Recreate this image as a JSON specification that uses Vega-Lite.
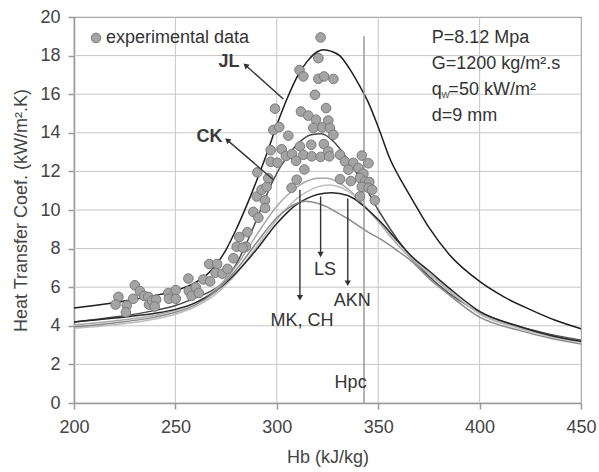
{
  "$schema": "https://vega.github.io/schema/vega-lite/v6.json",
  "autosize": {"type": "none"},
  "width": 507,
  "height": 386,
  "padding": {"left": 74, "top": 17, "right": 18, "bottom": 69},
  "background": "white",
  "config": {
    "font": "Liberation Sans",
    "view": {"stroke": "#a8a8a8", "strokeWidth": 1.2}
  },
  "datasets": {
    "vgrid": [{"H":250,"k":0,"k2":20},{"H":300,"k":0,"k2":20},{"H":350,"k":0,"k2":20},{"H":400,"k":0,"k2":20}],
    "hgrid": [{"H":200,"H2":450,"k":2},{"H":200,"H2":450,"k":4},{"H":200,"H2":450,"k":6},{"H":200,"H2":450,"k":8},{"H":200,"H2":450,"k":10},{"H":200,"H2":450,"k":12},{"H":200,"H2":450,"k":14},{"H":200,"H2":450,"k":16},{"H":200,"H2":450,"k":18}],
    "curves": [
      {"s":"JL","H":200,"k":4.92},{"s":"JL","H":210,"k":5.05},{"s":"JL","H":220,"k":5.2},{"s":"JL","H":230,"k":5.37},{"s":"JL","H":240,"k":5.57},{"s":"JL","H":250,"k":5.82},{"s":"JL","H":260,"k":6.25},{"s":"JL","H":265,"k":6.6},{"s":"JL","H":270,"k":7.15},{"s":"JL","H":275,"k":7.95},{"s":"JL","H":280,"k":9.0},{"s":"JL","H":285,"k":10.2},{"s":"JL","H":290,"k":11.5},{"s":"JL","H":295,"k":12.9},{"s":"JL","H":300,"k":14.4},{"s":"JL","H":305,"k":15.75},{"s":"JL","H":310,"k":16.9},{"s":"JL","H":315,"k":17.7},{"s":"JL","H":320,"k":18.2},{"s":"JL","H":323,"k":18.3},{"s":"JL","H":327,"k":18.22},{"s":"JL","H":331,"k":18.0},{"s":"JL","H":336,"k":17.3},{"s":"JL","H":341,"k":16.4},{"s":"JL","H":345,"k":15.6},{"s":"JL","H":350,"k":14.3},{"s":"JL","H":356,"k":12.6},{"s":"JL","H":362,"k":11.4},{"s":"JL","H":367,"k":10.5},{"s":"JL","H":375,"k":9.1},{"s":"JL","H":385,"k":7.7},{"s":"JL","H":400,"k":6.3},{"s":"JL","H":412,"k":5.5},{"s":"JL","H":425,"k":4.84},{"s":"JL","H":437,"k":4.3},{"s":"JL","H":450,"k":3.85},
      {"s":"CK","H":200,"k":4.2},{"s":"CK","H":220,"k":4.45},{"s":"CK","H":240,"k":4.8},{"s":"CK","H":250,"k":5.05},{"s":"CK","H":260,"k":5.45},{"s":"CK","H":266,"k":5.72},{"s":"CK","H":272,"k":6.1},{"s":"CK","H":280,"k":7.2},{"s":"CK","H":286,"k":8.5},{"s":"CK","H":292,"k":10.0},{"s":"CK","H":298,"k":11.5},{"s":"CK","H":305,"k":12.75},{"s":"CK","H":311,"k":13.5},{"s":"CK","H":317,"k":13.9},{"s":"CK","H":322,"k":13.95},{"s":"CK","H":328,"k":13.55},{"s":"CK","H":335,"k":12.6},{"s":"CK","H":343,"k":11.3},{"s":"CK","H":350,"k":10.0},{"s":"CK","H":360,"k":8.4},{"s":"CK","H":370,"k":7.1},{"s":"CK","H":380,"k":6.1},{"s":"CK","H":400,"k":4.7},{"s":"CK","H":420,"k":3.95},{"s":"CK","H":435,"k":3.55},{"s":"CK","H":450,"k":3.25},
      {"s":"MK","H":200,"k":4.05},{"s":"MK","H":220,"k":4.25},{"s":"MK","H":240,"k":4.55},{"s":"MK","H":250,"k":4.8},{"s":"MK","H":260,"k":5.2},{"s":"MK","H":270,"k":5.9},{"s":"MK","H":280,"k":7.1},{"s":"MK","H":290,"k":8.7},{"s":"MK","H":300,"k":10.2},{"s":"MK","H":305,"k":10.75},{"s":"MK","H":310,"k":11.2},{"s":"MK","H":315,"k":11.5},{"s":"MK","H":320,"k":11.65},{"s":"MK","H":325,"k":11.65},{"s":"MK","H":330,"k":11.45},{"s":"MK","H":335,"k":11.1},{"s":"MK","H":340,"k":10.6},{"s":"MK","H":345,"k":10.0},{"s":"MK","H":350,"k":9.4},{"s":"MK","H":360,"k":8.15},{"s":"MK","H":367,"k":7.4},{"s":"MK","H":375,"k":6.7},{"s":"MK","H":385,"k":5.8},{"s":"MK","H":400,"k":4.65},{"s":"MK","H":420,"k":3.9},{"s":"MK","H":435,"k":3.5},{"s":"MK","H":450,"k":3.2},
      {"s":"CH","H":200,"k":3.87},{"s":"CH","H":220,"k":4.05},{"s":"CH","H":240,"k":4.35},{"s":"CH","H":250,"k":4.6},{"s":"CH","H":260,"k":5.0},{"s":"CH","H":270,"k":5.65},{"s":"CH","H":280,"k":6.7},{"s":"CH","H":290,"k":8.1},{"s":"CH","H":300,"k":9.5},{"s":"CH","H":305,"k":10.1},{"s":"CH","H":310,"k":10.6},{"s":"CH","H":315,"k":10.95},{"s":"CH","H":320,"k":11.2},{"s":"CH","H":326,"k":11.3},{"s":"CH","H":332,"k":11.15},{"s":"CH","H":338,"k":10.75},{"s":"CH","H":343,"k":10.25},{"s":"CH","H":350,"k":9.5},{"s":"CH","H":360,"k":8.3},{"s":"CH","H":367,"k":7.5},{"s":"CH","H":375,"k":6.75},{"s":"CH","H":385,"k":5.85},{"s":"CH","H":400,"k":4.6},{"s":"CH","H":420,"k":3.85},{"s":"CH","H":435,"k":3.45},{"s":"CH","H":450,"k":3.15},
      {"s":"AKN","H":200,"k":4.2},{"s":"AKN","H":220,"k":4.4},{"s":"AKN","H":240,"k":4.65},{"s":"AKN","H":250,"k":4.85},{"s":"AKN","H":260,"k":5.2},{"s":"AKN","H":270,"k":5.8},{"s":"AKN","H":280,"k":6.75},{"s":"AKN","H":290,"k":7.95},{"s":"AKN","H":300,"k":9.3},{"s":"AKN","H":305,"k":9.85},{"s":"AKN","H":310,"k":10.3},{"s":"AKN","H":315,"k":10.6},{"s":"AKN","H":320,"k":10.8},{"s":"AKN","H":327,"k":10.9},{"s":"AKN","H":335,"k":10.75},{"s":"AKN","H":340,"k":10.45},{"s":"AKN","H":345,"k":10.0},{"s":"AKN","H":351,"k":9.4},{"s":"AKN","H":360,"k":8.35},{"s":"AKN","H":367,"k":7.55},{"s":"AKN","H":375,"k":6.85},{"s":"AKN","H":385,"k":5.95},{"s":"AKN","H":400,"k":4.75},{"s":"AKN","H":420,"k":3.95},{"s":"AKN","H":435,"k":3.5},{"s":"AKN","H":450,"k":3.2},
      {"s":"LS","H":200,"k":3.95},{"s":"LS","H":220,"k":4.15},{"s":"LS","H":240,"k":4.45},{"s":"LS","H":250,"k":4.7},{"s":"LS","H":260,"k":5.1},{"s":"LS","H":270,"k":5.8},{"s":"LS","H":280,"k":6.9},{"s":"LS","H":290,"k":8.3},{"s":"LS","H":300,"k":9.6},{"s":"LS","H":305,"k":10.05},{"s":"LS","H":310,"k":10.35},{"s":"LS","H":314,"k":10.45},{"s":"LS","H":320,"k":10.35},{"s":"LS","H":325,"k":10.15},{"s":"LS","H":330,"k":9.85},{"s":"LS","H":335,"k":9.55},{"s":"LS","H":340,"k":9.2},{"s":"LS","H":345,"k":8.85},{"s":"LS","H":351,"k":8.5},{"s":"LS","H":360,"k":7.85},{"s":"LS","H":367,"k":7.3},{"s":"LS","H":375,"k":6.45},{"s":"LS","H":385,"k":5.6},{"s":"LS","H":400,"k":4.45},{"s":"LS","H":420,"k":3.75},{"s":"LS","H":435,"k":3.35},{"s":"LS","H":450,"k":3.05}
    ],
    "exp": [
      {"H":221.9,"k":5.5},{"H":220.5,"k":5.1},{"H":226,"k":5.05},{"H":225.6,"k":4.7},{"H":230,"k":6.1},{"H":229.2,"k":5.4},{"H":232.5,"k":5.8},{"H":234.5,"k":5.55},{"H":236.6,"k":5.5},{"H":237,"k":5.1},{"H":238.5,"k":5.3},{"H":240.5,"k":5.35},{"H":239.8,"k":5.0},{"H":246.5,"k":5.7},{"H":246.8,"k":5.4},{"H":250.2,"k":5.85},{"H":250.2,"k":5.4},{"H":256.4,"k":6.45},{"H":256.6,"k":5.8},{"H":258,"k":5.55},{"H":260,"k":6.0},{"H":261.5,"k":5.7},{"H":263.8,"k":6.4},{"H":266.7,"k":7.2},{"H":267.1,"k":6.3},{"H":270.6,"k":7.2},{"H":269.8,"k":6.75},{"H":273.2,"k":6.7},{"H":275.7,"k":6.95},{"H":278.6,"k":7.5},{"H":280.2,"k":8.1},{"H":281.5,"k":8.6},{"H":284.8,"k":8.1},{"H":285.5,"k":8.85},{"H":283.2,"k":8.05},{"H":288.4,"k":9.9},{"H":290.9,"k":9.6},{"H":290.1,"k":10.7},{"H":294.2,"k":10.5},{"H":294.2,"k":10.1},{"H":292.5,"k":11.05},{"H":295,"k":11.2},{"H":295.8,"k":11.65},{"H":290.4,"k":11.95},{"H":297,"k":12.5},{"H":297,"k":13.1},{"H":298.3,"k":14.15},{"H":299.1,"k":15.25},{"H":301.2,"k":14.3},{"H":302.4,"k":13.15},{"H":300.3,"k":12.45},{"H":304.5,"k":12.8},{"H":305.7,"k":13.85},{"H":307.5,"k":12.9},{"H":309.5,"k":12.55},{"H":309.8,"k":11.57},{"H":307.3,"k":11.15},{"H":311.9,"k":15.1},{"H":311.2,"k":17.25},{"H":313.1,"k":16.92},{"H":320.5,"k":17.87},{"H":321.6,"k":18.94},{"H":320.5,"k":16.8},{"H":323.3,"k":16.92},{"H":327.9,"k":16.79},{"H":318.8,"k":15.97},{"H":324.3,"k":15.28},{"H":315.5,"k":14.89},{"H":319.3,"k":14.68},{"H":325.4,"k":14.64},{"H":318,"k":14.25},{"H":322.4,"k":14.28},{"H":326.2,"k":14.25},{"H":327.9,"k":13.9},{"H":311.4,"k":13.3},{"H":317,"k":13.38},{"H":323.2,"k":13.42},{"H":325.4,"k":13.04},{"H":313.1,"k":12.86},{"H":317.2,"k":12.78},{"H":321.6,"k":12.75},{"H":325.9,"k":12.78},{"H":331.2,"k":12.86},{"H":333.6,"k":12.52},{"H":337.7,"k":12.44},{"H":341.9,"k":12.82},{"H":345.2,"k":12.42},{"H":340.2,"k":12.18},{"H":335.3,"k":12.09},{"H":313.6,"k":12.1},{"H":342.7,"k":11.88},{"H":331.2,"k":11.6},{"H":336.5,"k":11.5},{"H":341,"k":11.66},{"H":343.5,"k":11.48},{"H":345.6,"k":11.45},{"H":341.9,"k":11.2},{"H":345.2,"k":11.15},{"H":347,"k":11.05},{"H":341,"k":10.7},{"H":348.3,"k":10.5}
    ],
    "diag": [
      {"H":303.2,"k":15.75,"H2":284.6,"k2":17.5},
      {"H":298.3,"k":11.57,"H2":275.6,"k2":13.62}
    ],
    "diaghead": [
      {"H":284.6,"k":17.5},
      {"H":275.6,"k":13.62}
    ],
    "down": [
      {"H":311.4,"k":11.05,"k2":5.45},
      {"H":321.6,"k":10.7,"k2":7.7},
      {"H":335,"k":10.6,"k2":6.2}
    ],
    "downhead": [
      {"H":311.4,"k":5.45},
      {"H":321.6,"k":7.7},
      {"H":335,"k":6.2}
    ],
    "hpc": [{"H":343,"k":0,"k2":19}],
    "boldlbl": [
      {"H":276.4,"k":17.69,"t":"JL"},
      {"H":266.8,"k":13.77,"t":"CK"}
    ],
    "lbl": [
      {"H":323.8,"k":6.87,"t":"LS"},
      {"H":337.2,"k":5.27,"t":"AKN"},
      {"H":312.4,"k":4.23,"t":"MK, CH"},
      {"H":336.4,"k":1.04,"t":"Hpc"}
    ],
    "info": [
      {"H":376.4,"k":18.91,"t":"P=8.12 Mpa"},
      {"H":376.4,"k":17.56,"t":"G=1200 kg/m².s"},
      {"H":376.4,"k":16.2,"t":"q"},
      {"H":384.6,"k":16.2,"t":"=50 kW/m²"},
      {"H":376.4,"k":14.85,"t":"d=9 mm"}
    ],
    "sub": [{"H":381.2,"k":15.95,"t":"w"}]
  },
  "encoding": {
    "x": {"field": "H", "type": "quantitative",
      "scale": {"domain": [200, 450], "nice": false, "zero": false},
      "axis": {"values": [200, 250, 300, 350, 400, 450], "title": "Hb (kJ/kg)", "grid": false,
        "labelFont": "Liberation Sans", "labelFontSize": 18, "labelColor": "#444", "labelFlush": false, "labelOverlap": false, "labelPadding": 9,
        "titleFont": "Liberation Sans", "titleFontSize": 18, "titleFontWeight": "normal", "titleColor": "#444", "titlePadding": 12,
        "domainColor": "#999", "domainWidth": 1.5, "tickColor": "#999", "tickWidth": 1.5, "tickSize": 6}},
    "y": {"field": "k", "type": "quantitative",
      "scale": {"domain": [0, 20], "nice": false, "zero": true},
      "axis": {"values": [0, 2, 4, 6, 8, 10, 12, 14, 16, 18, 20], "title": "Heat Transfer Coef. (kW/m².K)", "grid": false,
        "labelFont": "Liberation Sans", "labelFontSize": 18, "labelColor": "#444", "labelFlush": false, "labelOverlap": false, "labelPadding": 8,
        "titleFont": "Liberation Sans", "titleFontSize": 18, "titleFontWeight": "normal", "titleColor": "#444", "titlePadding": 9,
        "domainColor": "#999", "domainWidth": 1.5, "tickColor": "#999", "tickWidth": 1.5, "tickSize": 6}}
  },
  "layer": [
    {
      "data": {"name": "vgrid"},
      "mark": {"type": "rule", "color": "#c6c6c6", "strokeWidth": 1},
      "encoding": {"y2": {"field": "k2"}}
    },
    {
      "data": {"name": "hgrid"},
      "mark": {"type": "rule", "color": "#c6c6c6", "strokeWidth": 1},
      "encoding": {"x2": {"field": "H2"}}
    },
    {
      "data": {"name": "curves"},
      "mark": {"type": "line", "interpolate": "monotone", "strokeWidth": 1.5},
      "encoding": {
        "detail": {"field": "s"},
        "stroke": {"field": "s", "type": "nominal", "legend": null,
          "scale": {"domain": ["JL", "CK", "MK", "CH", "AKN", "LS"], "range": ["#1e1e1e", "#4a4a4a", "#a8a8a8", "#bdbdbd", "#262626", "#8a8a8a"]}}
      }
    },
    {
      "data": {"name": "hpc"},
      "mark": {"type": "rule", "color": "#9a9a9a", "strokeWidth": 1.5},
      "encoding": {"y2": {"field": "k2"}}
    },
    {
      "data": {"name": "exp"},
      "mark": {"type": "point", "shape": "circle", "filled": true, "size": 92, "stroke": "#7a7a7a", "strokeWidth": 1, "opacity": 1},
      "encoding": {
        "fill": {"datum": "experimental data", "type": "nominal",
          "scale": {"range": ["#a4a4a4"]},
          "legend": {"title": null, "orient": "none", "legendX": 13, "legendY": 12, "labelFontSize": 18, "labelFont": "Liberation Sans", "labelColor": "#333", "symbolSize": 92, "symbolStrokeColor": "#7a7a7a", "symbolStrokeWidth": 1, "labelOffset": 1, "padding": 0}}
      }
    },
    {
      "data": {"name": "diag"},
      "mark": {"type": "rule", "color": "#333", "strokeWidth": 1.4},
      "encoding": {"x2": {"field": "H2"}, "y2": {"field": "k2"}}
    },
    {
      "data": {"name": "diaghead"},
      "mark": {"type": "point", "shape": "triangle-up", "filled": true, "size": 40, "color": "#333", "angle": 311, "opacity": 1}
    },
    {
      "data": {"name": "down"},
      "mark": {"type": "rule", "color": "#333", "strokeWidth": 1.4},
      "encoding": {"y2": {"field": "k2"}}
    },
    {
      "data": {"name": "downhead"},
      "mark": {"type": "point", "shape": "triangle-down", "filled": true, "size": 40, "color": "#333", "opacity": 1}
    },
    {
      "data": {"name": "boldlbl"},
      "mark": {"type": "text", "font": "Liberation Sans", "fontSize": 18, "fontWeight": "bold", "color": "#3a3a3a", "align": "center", "baseline": "middle"},
      "encoding": {"text": {"field": "t"}}
    },
    {
      "data": {"name": "lbl"},
      "mark": {"type": "text", "font": "Liberation Sans", "fontSize": 18, "color": "#333", "align": "center", "baseline": "middle"},
      "encoding": {"text": {"field": "t"}}
    },
    {
      "data": {"name": "info"},
      "mark": {"type": "text", "font": "Liberation Sans", "fontSize": 18, "color": "#333", "align": "left", "baseline": "middle"},
      "encoding": {"text": {"field": "t"}}
    },
    {
      "data": {"name": "sub"},
      "mark": {"type": "text", "font": "Liberation Sans", "fontSize": 11, "color": "#555", "align": "left", "baseline": "middle"},
      "encoding": {"text": {"field": "t"}}
    }
  ]
}
